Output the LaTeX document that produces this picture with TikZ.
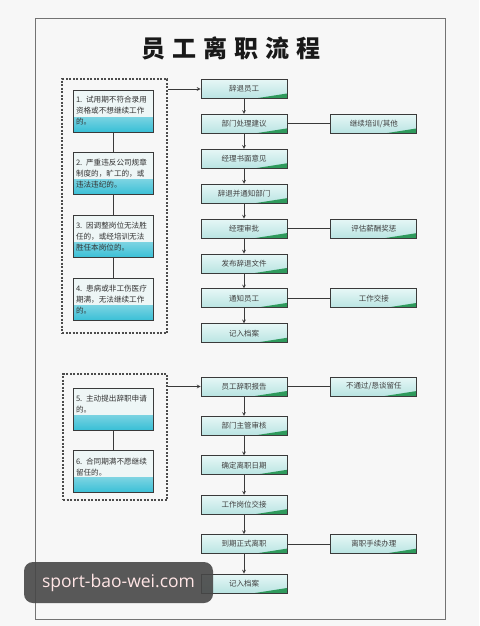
\documentclass[tikz,border=0pt]{standalone}
\usepackage{fontspec}
\setmainfont{Noto Sans CJK SC}
\newfontfamily\wmfont{Open Sans}
\usepackage{xcolor}
\usetikzlibrary{shapes, arrows, positioning}

\definecolor{boxtop}{HTML}{E6F7F6}
\definecolor{boxbot}{HTML}{B9E4E2}
\definecolor{corner}{HTML}{2E9A5C}
\definecolor{notetop}{HTML}{EEF6F6}
\definecolor{notebot}{HTML}{38BFD6}
\definecolor{edge}{HTML}{3A3A3A}

\begin{document}
\begin{tikzpicture}[x=1pt, y=-1pt,
        block/.style={rectangle, draw=edge, line width=0.9pt, top color=boxtop, bottom color=boxbot,
            minimum width=86pt, minimum height=19pt, inner sep=1pt, text=black!75,
            font=\fontsize{7.5}{9}\selectfont,
            path picture={\fill[corner] (path picture bounding box.south east) -- ++(-32pt,0pt) -- ++(32pt,5pt) -- cycle;}},
        note/.style={rectangle, draw=edge, line width=0.9pt, fill=notetop,
            text width=74pt, align=left, minimum height=42pt, inner sep=3pt, text=black!80,
            font=\fontsize{7.6}{11}\selectfont,
            path picture={\shade[top color=notetop, bottom color=notebot]
                ([yshift=15pt]path picture bounding box.south west) rectangle (path picture bounding box.south east);}},
        group/.style={rectangle, draw=black!70, dash pattern=on 2pt off 1.5pt, line width=1.1pt},
        arrow/.style={->, >=stealth, draw=edge, line width=0.7pt},
        link/.style={draw=edge, line width=0.9pt}
        ]

        \fill[black!3] (0,0) rectangle (479,626);
        \useasboundingbox (0,0) rectangle (479,626);
        \node[draw=black!55, line width=1pt, fill=white!97!black, minimum width=410pt, minimum height=600pt] (frame) at (240,319) {};
        \node[font=\bfseries\fontsize{24}{28}\selectfont, text=black!90] (title) at (231,48)
            {员\hspace{7pt}工\hspace{7pt}离\hspace{7pt}职\hspace{7pt}流\hspace{7pt}程};

        \node[group, minimum width=105pt, minimum height=254pt] (grpA) at (114.5,206) {};
        \node[note] (c1) at (113,111) {1. 试用期不符合录用\\资格或不想继续工作\\的。};
        \node[note, below=20pt of c1] (c2) {2. 严重违反公司规章\\制度的，旷工的，或\\违法违纪的。};
        \node[note, below=20pt of c2] (c3) {3. 因调整岗位无法胜\\任的，或经培训无法\\胜任本岗位的。};
        \node[note, below=20pt of c3] (c4) {4. 患病或非工伤医疗\\期满，无法继续工作\\的。};

        \node[block] (quit) at (244,89) {辞退员工};
        \node[block, below=15pt of quit] (advice) {部门处理建议};
        \node[block, below=15pt of advice] (opinion) {经理书面意见};
        \node[block, below=15pt of opinion] (notify) {辞退并通知部门};
        \node[block, below=15pt of notify] (approve) {经理审批};
        \node[block, below=15pt of approve] (publish) {发布辞退文件};
        \node[block, below=15pt of publish] (inform) {通知员工};
        \node[block, below=15pt of inform] (fileA) {记入档案};

        \node[block, right=43pt of advice] (train) {继续培训/其他};
        \node[block, right=43pt of approve] (assess) {评估薪酬奖惩};
        \node[block, right=43pt of inform] (handover) {工作交接};

        \draw[link] (c1) -- (c2);
        \draw[link] (c2) -- (c3);
        \draw[link] (c3) -- (c4);
        \draw[arrow] (grpA.east |- quit) -- (quit);
        \draw[arrow] (quit) -- (advice);
        \draw[arrow] (advice) -- (opinion);
        \draw[arrow] (opinion) -- (notify);
        \draw[arrow] (notify) -- (approve);
        \draw[arrow] (approve) -- (publish);
        \draw[arrow] (publish) -- (inform);
        \draw[arrow] (inform) -- (fileA);
        \draw[link] (advice) -- (train);
        \draw[link] (approve) -- (assess);
        \draw[link] (inform) -- (handover);

        \node[group, minimum width=104pt, minimum height=126pt] (grpB) at (115,437) {};
        \node[note] (c5) at (113,409) {5. 主动提出辞职申请\\的。\\~};
        \node[note, below=20pt of c5] (c6) {6. 合同期满不愿继续\\留任的。\\~};

        \node[block] (report) at (244,386.5) {员工辞职报告};
        \node[block, below=19.5pt of report] (review) {部门主管审核};
        \node[block, below=19.5pt of review] (date) {确定离职日期};
        \node[block, below=19.5pt of date] (transfer) {工作岗位交接};
        \node[block, below=19.5pt of transfer] (leave) {到期正式离职};
        \node[block, below=19.5pt of leave] (fileB) {记入档案};

        \node[block, right=43pt of report] (retain) {不通过/恳谈留任};
        \node[block, right=43pt of leave] (formal) {离职手续办理};

        \draw[link] (c5) -- (c6);
        \draw[arrow] (grpB.east |- report) -- (report);
        \draw[arrow] (report) -- (review);
        \draw[arrow] (review) -- (date);
        \draw[arrow] (date) -- (transfer);
        \draw[arrow] (transfer) -- (leave);
        \draw[arrow] (leave) -- (fileB);
        \draw[link] (report) -- (retain);
        \draw[link] (leave) -- (formal);

        \node[rectangle, rounded corners=9pt, fill=black!72, fill opacity=0.9, text opacity=1,
            minimum width=189pt, minimum height=41pt, text=white!90!red,
            font=\wmfont\fontsize{17.5}{20}\selectfont] (mark) at (118.5,582.5) {sport-bao-wei.com};

    \end{tikzpicture}
\end{document}
